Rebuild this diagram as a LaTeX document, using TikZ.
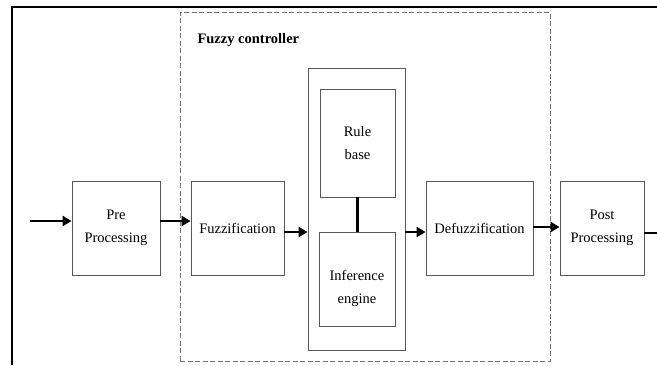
\documentclass[tikz,border=0pt]{standalone}
\usepackage{fontspec}
\setmainfont{Liberation Serif}
\usetikzlibrary{arrows.meta}

\begin{document}
\begin{tikzpicture}[x=1pt,y=-1pt,
        block/.style={draw=black!65, line width=0.9pt, align=center,
            font=\fontsize{14.5}{23}\selectfont, inner sep=0pt},
        flow/.style={line width=2.4pt, -{Triangle[length=9pt,width=10pt]}}]
    \useasboundingbox (0,0) rectangle (657,365);

    % frame and controller boundary
    \draw[line width=2.6pt] (12,365) -- (12,7) -- (657,7);
    \node[draw=black!55, dash pattern=on 5pt off 2.5pt, line width=0.9pt,
        minimum width=370pt, minimum height=349pt] (Ctrl) at (365,186.5) {};
    \node[anchor=west, font=\fontsize{14.5}{17}\selectfont\bfseries] (Title) at (194,40) {Fuzzy controller};

    \node[block, minimum width=88pt, minimum height=94pt] (Pre) at (116,228) {Pre\\Processing};
    \node[block, minimum width=93pt, minimum height=94pt] (Fuzz) at (237.5,228) {Fuzzification};
    \node[block, minimum width=97pt, minimum height=282pt] (Core) at (356.5,209) {};
    \node[block, minimum width=75pt, minimum height=108pt] (Rule) at (357.5,143) {Rule\\base};
    \node[block, minimum width=76pt, minimum height=94pt] (Infer) at (357,279) {\mbox{}\\[7pt]Inference\\engine};
    \node[block, minimum width=107pt, minimum height=94pt] (Defuzz) at (479.5,228) {Defuzzification};
    \node[block, minimum width=84pt, minimum height=94pt] (Post) at (602,228) {Post\\Processing};

    \coordinate (In) at (30,221);
    \coordinate (Out) at (660,233);

    \draw[flow] (In) -- (In -| Pre.west);
    \draw[flow] ([yshift=7pt]Pre.east) -- ([yshift=7pt]Fuzz.west);
    \draw[flow] ([yshift=-4pt]Fuzz.east) -- ([yshift=-4pt]Fuzz.east -| Core.west);
    \draw[flow] ([yshift=-4pt]Defuzz.west -| Core.east) -- ([yshift=-4pt]Defuzz.west);
    \draw[flow] ([yshift=1pt]Defuzz.east) -- ([yshift=1pt]Post.west);
    \draw[line width=2.4pt] ([yshift=-5pt]Post.east) -- (Out);
    \draw[line width=2.4pt] (Rule.south) -- (Rule.south |- Infer.north);
\end{tikzpicture}
\end{document}
